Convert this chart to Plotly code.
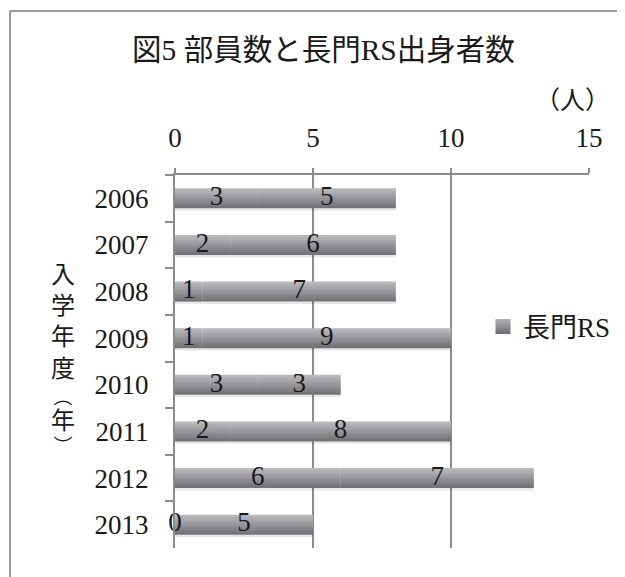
import plotly.graph_objects as go

years = ["2006", "2007", "2008", "2009", "2010", "2011", "2012", "2013"]
nagato_rs = [3, 2, 1, 1, 3, 2, 6, 0]
others = [5, 6, 7, 9, 3, 8, 7, 5]
x_ticks = [0, 5, 10, 15]

FONT = "Liberation Serif, Noto Sans CJK JP, serif"
W, H = 625, 577
S = 8  # page offset (body margin)
L, T = 175 - S, 175 - S
R = W - (589 - S)
B = H - (548 - S)

band_colors = ["#b8b8bc", "#afafb3", "#a5a5a9", "#9b9b9f", "#919195",
               "#87878b", "#7d7d81", "#747478"]
w = 0.43
bw = w / len(band_colors)

fig = go.Figure()

def add_series(values, base):
    fig.add_trace(go.Bar(y=years, x=values, base=base, orientation="h",
                         offset=w / 2 - 0.01, width=0.06,
                         marker=dict(color="rgba(0,0,0,0.09)", line=dict(width=0)),
                         showlegend=False, hoverinfo="skip"))
    for i, c in enumerate(band_colors):
        fig.add_trace(go.Bar(y=years, x=values, base=base, orientation="h",
                             offset=-w / 2 + i * bw,
                             width=bw * (1.6 if i < len(band_colors) - 1 else 1.0),
                             marker=dict(color=c, line=dict(width=0)),
                             showlegend=False, hoverinfo="skip"))

add_series(nagato_rs, [0] * len(years))
add_series(others, nagato_rs)

lab_x, lab_y, lab_t = [], [], []
for yv, a, b in zip(years, nagato_rs, others):
    lab_x += [a / 2, a + b / 2]
    lab_y += [yv, yv]
    lab_t += [str(a), str(b)]
fig.add_trace(go.Scatter(x=lab_x, y=lab_y, text=lab_t, mode="text", cliponaxis=False,
                         textfont=dict(family=FONT, size=27, color="#1a1a1a"),
                         showlegend=False, hoverinfo="skip"))

fig.add_trace(go.Scatter(x=[None], y=[None], mode="markers", name="長門RS",
                         marker=dict(symbol="square", size=15, color="#b0b0b4",
                                     gradient=dict(type="vertical", color="#6e6e72"))))

pw, ph = W - L - R, H - T - B
def px(xp):
    return (xp - S - L) / pw
def py(yp):
    return (H - B - (yp - S)) / ph

fig.update_layout(
    width=W, height=H,
    margin=dict(l=L, r=R, t=T, b=B, autoexpand=False),
    paper_bgcolor="white", plot_bgcolor="white",
    barmode="overlay",
    font=dict(family=FONT, size=27, color="#1a1a1a"),
    showlegend=True,
    legend=dict(x=px(483), y=py(327),
                xanchor="left", yanchor="middle", bgcolor="rgba(0,0,0,0)",
                font=dict(family=FONT, size=27, color="#1a1a1a")),
    xaxis=dict(side="top", range=[0, 15], tickvals=x_ticks,
               showgrid=True, gridcolor="#8c8c8c", gridwidth=2,
               showline=True, linecolor="#8c8c8c", linewidth=2,
               ticks="outside", ticklen=5, tickcolor="#8c8c8c", tickwidth=2,
               zeroline=False, ticklabelstandoff=10,
               tickfont=dict(family=FONT, size=27, color="#1a1a1a")),
    yaxis=dict(type="category", categoryorder="array", categoryarray=years,
               autorange="reversed", showgrid=False, zeroline=False,
               showline=True, linecolor="#8c8c8c", linewidth=2,
               ticks="outside", tickson="boundaries", ticklen=8,
               tickcolor="#8c8c8c", tickwidth=2, ticklabelstandoff=19,
               tickfont=dict(family=FONT, size=27, color="#1a1a1a")),
)

fig.add_shape(type="line", xref="paper", yref="paper",
              x0=px(10), x1=px(10), y0=py(11), y1=py(H + 20),
              line=dict(color="#9a9a9a", width=2))
fig.add_shape(type="line", xref="paper", yref="paper",
              x0=px(10), x1=px(W + 20), y0=py(11), y1=py(11),
              line=dict(color="#9a9a9a", width=2))

fig.add_annotation(text="図5 部員数と長門RS出身者数", xref="paper", yref="paper",
                   x=px(323), y=py(50), xanchor="center", yanchor="middle",
                   showarrow=False, font=dict(family=FONT, size=29.5, color="#1a1a1a"))
fig.add_annotation(text="（人）", xref="paper", yref="paper",
                   x=px(612), y=py(100), xanchor="right", yanchor="middle",
                   showarrow=False, font=dict(family=FONT, size=25, color="#1a1a1a"))

fig.add_annotation(text="入<br>学<br>年<br>度", xref="paper", yref="paper",
                   x=px(63), y=py(321.5), xanchor="center", yanchor="middle",
                   showarrow=False, font=dict(family=FONT, size=24, color="#1a1a1a"))
fig.add_annotation(text='︵<br><span style="font-size:24px">年</span><br>︶',
                   xref="paper", yref="paper",
                   x=px(63), y=py(422), xanchor="center", yanchor="middle",
                   showarrow=False, font=dict(family=FONT, size=19, color="#1a1a1a"))

fig.write_html("out.html")
